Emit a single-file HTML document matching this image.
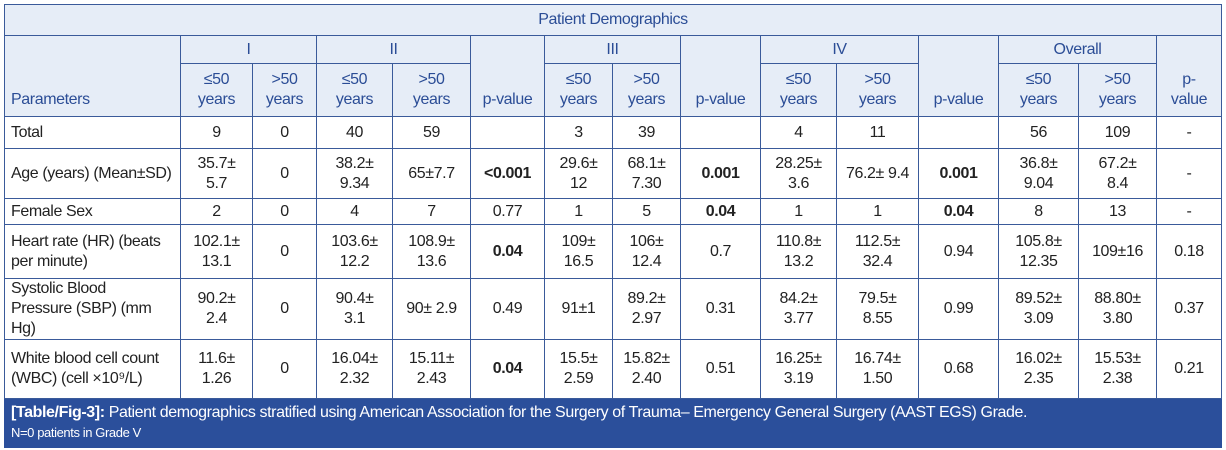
<!DOCTYPE html>
<html><head><meta charset="utf-8"><style>
body{margin:0;background:#fff;width:1226px;height:450px;overflow:hidden}
table{position:absolute;left:4px;top:4px;border-collapse:collapse;table-layout:fixed;font-family:"Liberation Sans",Arial,sans-serif;font-size:16px;color:#222;letter-spacing:-0.4px}
td{border:1.5px solid #3a5a9a;text-align:center;vertical-align:middle;padding:0 2px;line-height:20px}
.h td{background:#e6edf7;color:#2b4d96}
.l{text-align:left;padding-left:6px}
b{font-weight:bold}
.cap td{background:#2b4f9b;color:#fff;text-align:left;padding:4px 6px;border-color:#2b4f9b;font-size:16px;line-height:20px}
</style></head><body>
<table>
<colgroup><col style="width:176px"><col style="width:72px"><col style="width:64px"><col style="width:76px"><col style="width:78px"><col style="width:74px"><col style="width:68px"><col style="width:68px"><col style="width:80px"><col style="width:76px"><col style="width:82px"><col style="width:80px"><col style="width:80px"><col style="width:78px"><col style="width:65px"></colgroup>
<tr class="h" style="height:31px"><td colspan="15">Patient Demographics</td></tr>
<tr class="h" style="height:28px"><td rowspan="2" class="l" style="vertical-align:bottom;padding-bottom:6px">Parameters</td><td colspan="2">I</td><td colspan="2">II</td><td rowspan="2" style="vertical-align:bottom;padding-bottom:6px">p-value</td><td colspan="2">III</td><td rowspan="2" style="vertical-align:bottom;padding-bottom:6px">p-value</td><td colspan="2">IV</td><td rowspan="2" style="vertical-align:bottom;padding-bottom:6px">p-value</td><td colspan="2">Overall</td><td rowspan="2" style="vertical-align:bottom;padding-bottom:6px">p-<br>value</td></tr>
<tr class="h" style="height:53px"><td>≤50<br>years</td><td>&gt;50<br>years</td><td>≤50<br>years</td><td>&gt;50<br>years</td><td>≤50<br>years</td><td>&gt;50<br>years</td><td>≤50<br>years</td><td>&gt;50<br>years</td><td>≤50<br>years</td><td>&gt;50<br>years</td></tr>
<tr style="height:32px"><td class="l">Total</td><td>9</td><td>0</td><td>40</td><td>59</td><td></td><td>3</td><td>39</td><td></td><td>4</td><td>11</td><td></td><td>56</td><td>109</td><td>-</td></tr>
<tr style="height:50px"><td class="l">Age (years) (Mean±SD)</td><td>35.7±<br>5.7</td><td>0</td><td>38.2±<br>9.34</td><td>65±7.7</td><td><b>&lt;0.001</b></td><td>29.6±<br>12</td><td>68.1±<br>7.30</td><td><b>0.001</b></td><td>28.25±<br>3.6</td><td>76.2± 9.4</td><td><b>0.001</b></td><td>36.8±<br>9.04</td><td>67.2±<br>8.4</td><td>-</td></tr>
<tr style="height:26px"><td class="l">Female Sex</td><td>2</td><td>0</td><td>4</td><td>7</td><td>0.77</td><td>1</td><td>5</td><td><b>0.04</b></td><td>1</td><td>1</td><td><b>0.04</b></td><td>8</td><td>13</td><td>-</td></tr>
<tr style="height:54px"><td class="l">Heart rate (HR) (beats<br>per minute)</td><td>102.1±<br>13.1</td><td>0</td><td>103.6±<br>12.2</td><td>108.9±<br>13.6</td><td><b>0.04</b></td><td>109±<br>16.5</td><td>106±<br>12.4</td><td>0.7</td><td>110.8±<br>13.2</td><td>112.5±<br>32.4</td><td>0.94</td><td>105.8±<br>12.35</td><td>109±16</td><td>0.18</td></tr>
<tr style="height:61px"><td class="l">Systolic Blood<br>Pressure (SBP) (mm<br>Hg)</td><td>90.2±<br>2.4</td><td>0</td><td>90.4±<br>3.1</td><td>90± 2.9</td><td>0.49</td><td>91±1</td><td>89.2±<br>2.97</td><td>0.31</td><td>84.2±<br>3.77</td><td>79.5±<br>8.55</td><td>0.99</td><td>89.52±<br>3.09</td><td>88.80±<br>3.80</td><td>0.37</td></tr>
<tr style="height:59px"><td class="l">White blood cell count<br>(WBC) (cell ×10⁹/L)</td><td>11.6±<br>1.26</td><td>0</td><td>16.04±<br>2.32</td><td>15.11±<br>2.43</td><td><b>0.04</b></td><td>15.5±<br>2.59</td><td>15.82±<br>2.40</td><td>0.51</td><td>16.25±<br>3.19</td><td>16.74±<br>1.50</td><td>0.68</td><td>16.02±<br>2.35</td><td>15.53±<br>2.38</td><td>0.21</td></tr>
<tr class="cap" style="height:44px"><td colspan="15"><b>[Table/Fig-3]:</b> Patient demographics stratified using American Association for the Surgery of Trauma– Emergency General Surgery (AAST EGS) Grade.<br><span style="font-size:13px">N=0 patients in Grade V</span></td></tr>
</table>
</body></html>
